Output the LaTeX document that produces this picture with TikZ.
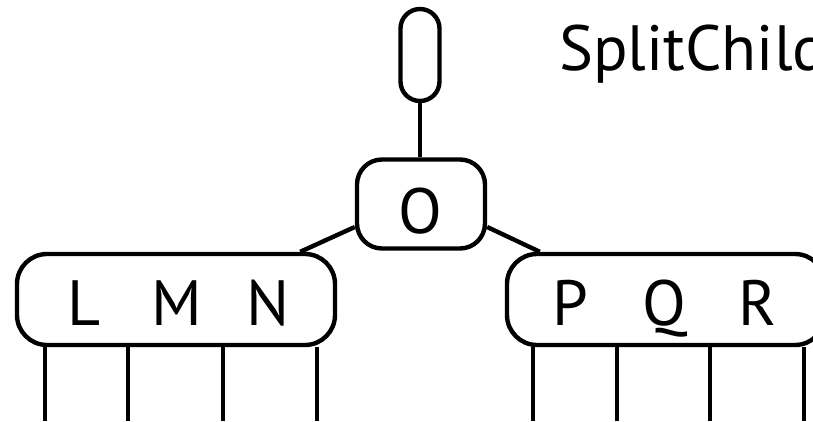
\documentclass[tikz,border=0pt]{standalone}
\usepackage{fontspec}
\setmainfont{PT Sans}
\usetikzlibrary{calc}
\begin{document}
\begin{tikzpicture}[x=1pt,y=-1pt,
  line width=4.4pt,
  keybox/.style={draw,rounded corners=#1,inner sep=0pt},
  lbl/.style={font=\fontsize{64}{64}\selectfont,inner sep=0pt,anchor=base},
  ptr/.style={line width=4.2pt}]
\useasboundingbox (0,0) rectangle (813,421);
% nodes
\node[keybox=19.5pt,minimum width=39pt,minimum height=92pt] (top) at (420,55) {};
\node[keybox=25pt,minimum width=128pt,minimum height=89pt] (O) at (421,204) {};
\node[keybox=30pt,minimum width=318pt,minimum height=91pt] (left) at (176,299.5) {};
\node[keybox=30pt,minimum width=318pt,minimum height=91pt] (right) at (666,299.5) {};
% labels
\node[lbl] (tO) at (420,233) {O};
\node[lbl] (tL) at (84,325) {L};
\node[lbl] (tM) at (177,325) {M};
\node[lbl] (tN) at (268,325) {N};
\node[lbl] (tP) at (570,325) {P};
\node[lbl] (tQ) at (664,325) {Q};
\node[lbl] (tR) at (758,325) {R};
\node[lbl,anchor=base west] (title) at (557,70) {SplitChild};
% connectors
\draw (top.south) -- (top.south |- O.north);
\coordinate (oL) at ($(O.west)+(0,23)$);
\coordinate (oR) at ($(O.east)+(0,23)$);
\coordinate (cL) at ($(left.north east)+(-37,0)$);
\coordinate (cR) at ($(right.north west)+(35,0)$);
\draw (oL) -- (cL);
\draw (oR) -- (cR);
% child pointers
\foreach \x/\n in {45/a,128/b,223/c,317/d} {
  \coordinate (l\n) at (\x,421);
  \draw[ptr] (left.south -| l\n) -- (l\n);
}
\foreach \x/\n in {533/a,617/b,710/c,804/d} {
  \coordinate (r\n) at (\x,421);
  \draw[ptr] (right.south -| r\n) -- (r\n);
}
\end{tikzpicture}
\end{document}
